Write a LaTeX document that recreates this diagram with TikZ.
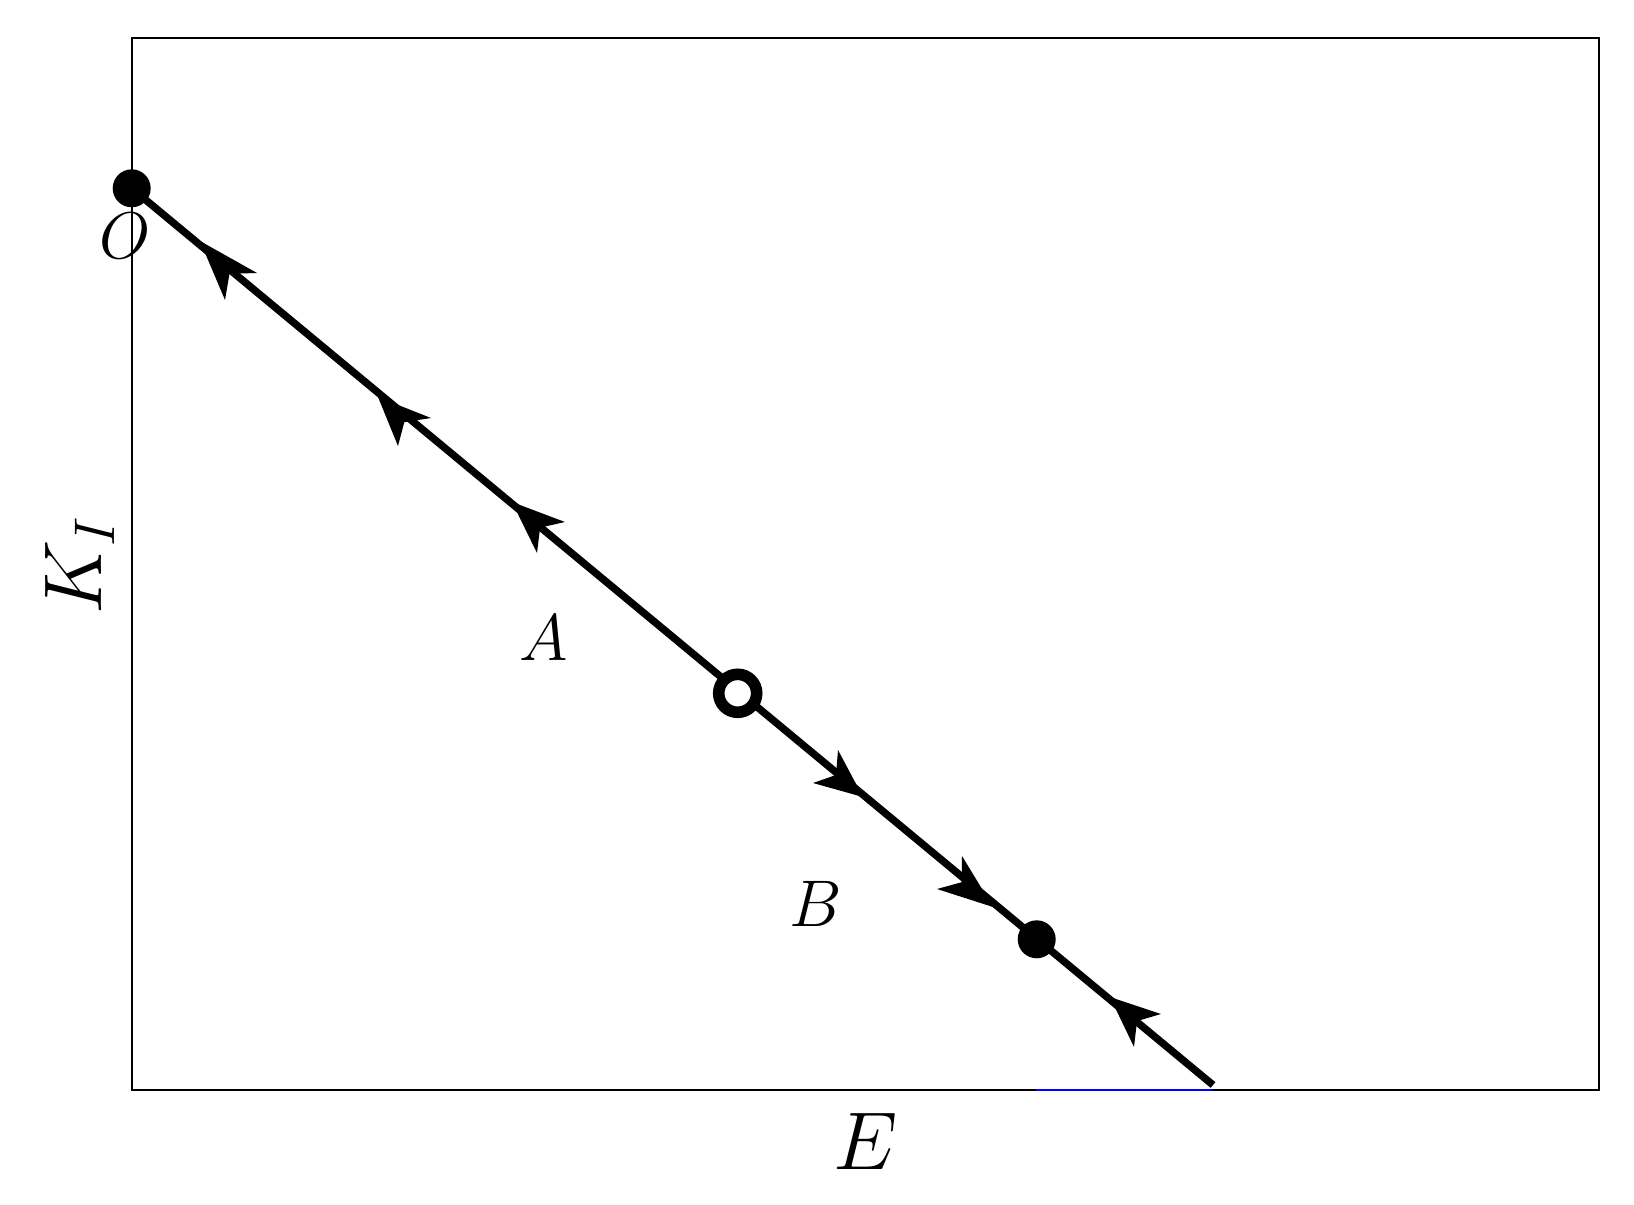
\RequirePackage{fix-cm}
\documentclass[tikz,border=0pt]{standalone}
\usetikzlibrary{calc}
\begin{document}
\begin{tikzpicture}[x=0.5pt,y=-0.5pt,
  frame/.style={line width=1pt,draw=black},
  traj/.style={line width=3.7pt,draw=black},
  fixdot/.style={circle,fill=black,inner sep=0pt,minimum size=19pt},
  ring/.style={circle,draw=black,fill=white,line width=5.8pt,inner sep=0pt,minimum size=19pt},
  ahead/.style={fill=black},
  lab/.style={inner sep=0pt,font=\fontsize{33}{40}\selectfont},
  axlab/.style={inner sep=0pt,font=\fontsize{41}{48}\selectfont}]
\useasboundingbox (0,0) rectangle (1634,1205);
% axes box
\draw[frame] (131.7,38.3) rectangle (1599,1090);
\draw[blue,line width=1pt] (1036,1090) -- (1213,1090);
% trajectory
\coordinate (pO) at (131.7,188.3);
\coordinate (pS) at (737.7,693.3);
\coordinate (pF) at (1036.7,939.3);
\coordinate (pEnd) at (1213,1085);
\draw[traj] (pO) -- (pEnd);
% arrowheads
\fill[ahead] (200,241) -- (225,300) -- (229.5,273.8) -- (257,273) -- cycle;
\fill[ahead] (378,397) -- (398,446) -- (404.3,422.2) -- (431,418) -- cycle;
\fill[ahead] (512,502) -- (537,553) -- (540.1,527.6) -- (565,522) -- cycle;
\fill[ahead] (863,797) -- (838,750) -- (836,775) -- (813,783) -- cycle;
\fill[ahead] (993,907) -- (962,856) -- (961.7,882.2) -- (937,889) -- cycle;
\fill[ahead] (1110,997) -- (1134,1047) -- (1137,1021.1) -- (1161,1014) -- cycle;
% fixed points
\node[fixdot] (O) at (pO) {};
\node[ring] (S) at (pS) {};
\node[fixdot] (F) at (pF) {};
% labels
\node[lab] (labO) at (125,236) {$O$};
\node[lab] (labA) at (544,638) {$A$};
\node[lab] (labB) at (816,904) {$B$};
\node[axlab] (labE) at (866,1141) {$E$};
\node[axlab,rotate=90] (labK) at (80,565) {$K_I$};
\end{tikzpicture}
\end{document}
